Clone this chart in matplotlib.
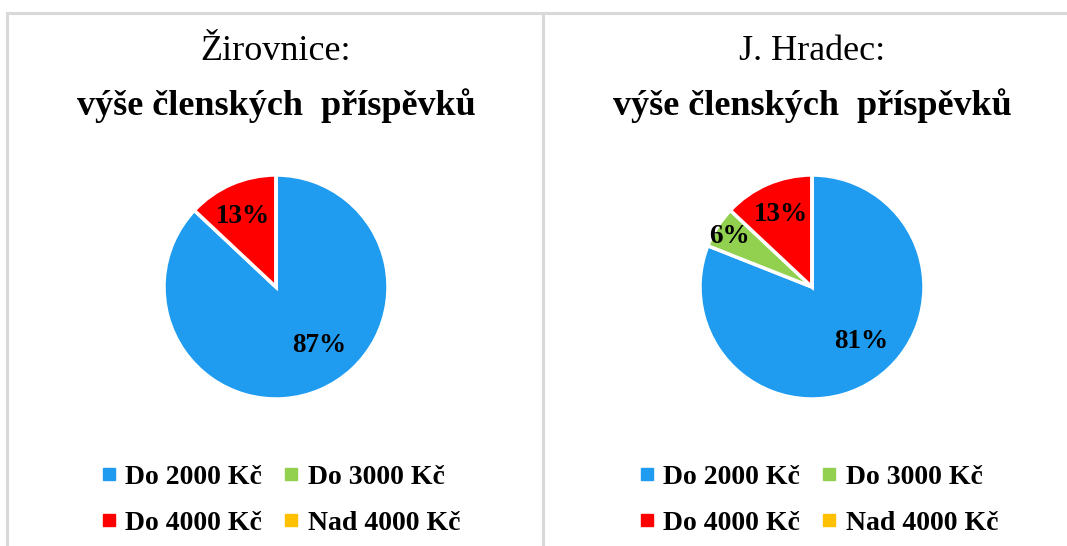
import matplotlib
matplotlib.use("Agg")
import matplotlib.pyplot as plt
from matplotlib.lines import Line2D
import numpy as np

categories = ["Do 2000 Kč", "Do 3000 Kč", "Do 4000 Kč", "Nad 4000 Kč"]
colors = ["#1F9CF0", "#92D050", "#FF0000", "#FFC000"]
zirovnice_values = [87, 0, 13, 0]
hradec_values = [81, 6, 13, 0]
titles_line1 = ["Žirovnice:", "J. Hradec:"]
title_line2 = "výše členských  příspěvků"

W, H = 1067, 546
fig = plt.figure(figsize=(W / 100, H / 100), dpi=100)
serif = ["Liberation Serif", "DejaVu Serif"]

def fx(px):
    return px / W

def fy(py):
    return 1 - py / H

# panel borders
border = "#D9D9D9"
fig.add_artist(Line2D([fx(6.5), fx(6.5)], [fy(13), 0], color=border, lw=2.2, transform=fig.transFigure))
fig.add_artist(Line2D([fx(6.5), 1], [fy(13), fy(13)], color=border, lw=2.2, transform=fig.transFigure))
fig.add_artist(Line2D([fx(543), fx(543)], [fy(13), 0], color=border, lw=2.2, transform=fig.transFigure))

# label placement (radius fraction, angle in degrees) per wedge, like Excel's best fit
panels = [
    dict(values=zirovnice_values, cx=276, cy=287, title_x=276, leg_x=281,
         label_pos=[(0.65, -54), None, (0.69, 115), None]),
    dict(values=hradec_values, cx=812, cy=287, title_x=812, leg_x=819,
         label_pos=[(0.655, -48), (0.86, 148.6), (0.70, 113), None]),
]
R = 112
order = [0, 2, 1, 3]  # row-major legend order in a 2-column layout

for i, p in enumerate(panels):
    ax = fig.add_axes([fx(p["cx"] - R), fy(p["cy"] + R), fx(2 * R), 2 * R / H])
    vals = p["values"]
    ax.pie(vals, colors=colors, startangle=90, counterclock=False,
           wedgeprops=dict(edgecolor="white", linewidth=2.5), radius=1.0)
    for v, pos in zip(vals, p["label_pos"]):
        if v > 0 and pos is not None:
            r, ang = pos
            a = np.deg2rad(ang)
            ax.text(r * np.cos(a), r * np.sin(a), f"{v}%", ha="center", va="center",
                    fontsize=19.5, fontweight="bold", family=serif, color="black")
    ax.set_xlim(-1, 1)
    ax.set_ylim(-1, 1)
    ax.set_aspect("equal")
    ax.axis("off")

    fig.text(fx(p["title_x"]), fy(51), titles_line1[i], ha="center", va="center",
             fontsize=26, family=serif)
    fig.text(fx(p["title_x"]), fy(106), title_line2, ha="center", va="center",
             fontsize=26, fontweight="bold", family=serif)

    handles = [Line2D([], [], marker="s", linestyle="none", markersize=9,
                      markerfacecolor=c, markeredgecolor=c) for c in colors]
    fig.legend([handles[k] for k in order], [categories[k] for k in order],
               loc="center", ncol=2,
               bbox_to_anchor=(fx(p["leg_x"]), fy(500)), frameon=False,
               prop=dict(family=serif, weight="bold", size=20),
               handlelength=0.5, handletextpad=0.35, columnspacing=0.8,
               labelspacing=0.75)

fig.savefig("out.png", dpi=100, facecolor="white")
